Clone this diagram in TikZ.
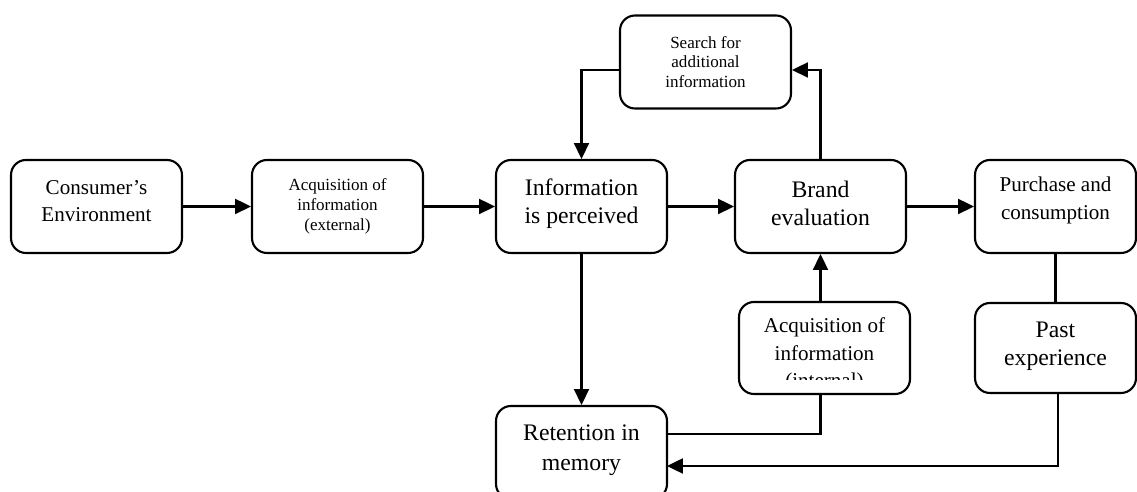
\documentclass[tikz,border=0pt]{standalone}
\usepackage{fontspec}
\setmainfont{Liberation Serif}
\usetikzlibrary{arrows.meta}
\tikzset{
  box/.style={draw,line width=1.2pt,rounded corners=8.5pt,minimum width=3.42cm,minimum height=1.86cm,align=center,inner sep=0pt},
  bigtxt/.style={font=\fontsize{12}{15.6}\selectfont},
  hugetxt/.style={font=\fontsize{13.5}{15.8}\selectfont},
  smalltxt/.style={font=\fontsize{9.7}{11.3}\selectfont},
  lift/.style={text depth=#1},
  flow/.style={line width=1.2pt,-{Triangle[length=9pt,width=8.5pt]}},
  link/.style={line width=1.2pt}
}
\begin{document}
\begin{tikzpicture}[x=0.02cm,y=-0.02cm]
\useasboundingbox (0,0) rectangle (1137,492);
\clip (0,0) rectangle (1137,492);
% top row
\node[box,bigtxt,lift=6.2pt] (env) at (96.5,206.5) {Consumer's\\Environment};
\node[box,smalltxt] (acqext) at (337.5,206.5) {Acquisition of\\information\\(external)};
\node[box,hugetxt,lift=6.3pt] (perc) at (581.5,206.5) {Information\\is perceived};
\node[box,hugetxt,lift=3.4pt] (brand) at (820.5,206.5) {Brand\\evaluation};
\node[box,bigtxt,lift=9.4pt,minimum width=3.22cm] (purch) at (1055.5,206.5) {Purchase and\\consumption};
\node[box,smalltxt] (search) at (705.5,62) {Search for\\additional\\information};
% lower boxes
\node[box,minimum height=1.84cm] (intl) at (824.5,348) {};
\begin{scope}
\clip (739,300) rectangle (910,380);
\node[bigtxt,align=center] (intltxt) at (824.5,355) {Acquisition of\\information\\(internal)};
\end{scope}
\node[box,hugetxt,lift=5.1pt,minimum width=3.22cm,minimum height=1.8cm] (past) at (1055.5,348) {Past\\experience};
\node[box,hugetxt,lift=5.7pt,font=\fontsize{13.5}{16.8}\selectfont] (ret) at (581.5,452.5) {Retention in\\memory};
\coordinate (retin) at (667,434); \coordinate (retpast) at (667,466);
% connectors
\draw[flow] (env) -- (acqext); \draw[flow] (acqext) -- (perc);
\draw[flow] (perc) -- (brand); \draw[flow] (brand) -- (purch);
\draw[flow] ([yshift=-0.16cm]search.west) -| (perc.north);
\draw[flow] (brand.north) |- ([yshift=-0.16cm]search.east);
\draw[flow] (perc.south) -- (ret.north);
\draw[flow] (brand.south |- intl.north) -- (brand.south);
\draw[link] (brand.south |- intl.south) |- (retin);
\draw[link] (purch.south) -- (past.north);
\draw[flow] ([xshift=0.05cm]past.south) |- (retpast);
\end{tikzpicture}
\end{document}
